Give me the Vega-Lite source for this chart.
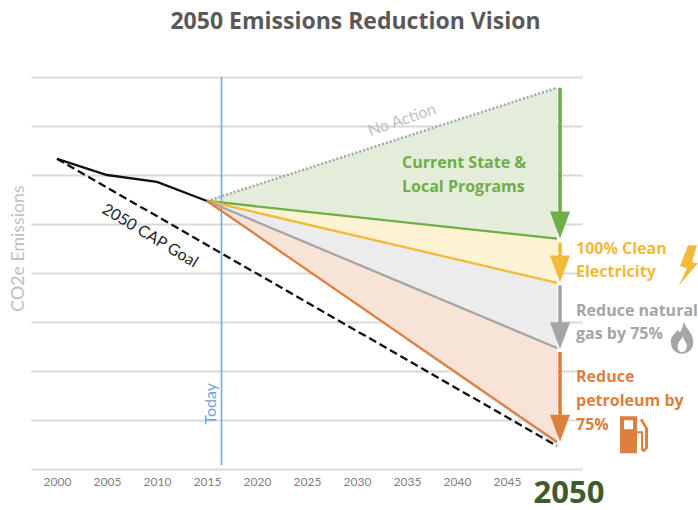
{
"$schema":"https://vega.github.io/schema/vega-lite/v6.json",
"width":551,"height":392,
"autosize":{"type":"none"},
"padding":{"left":31,"top":77,"right":116,"bottom":41},
"background":"white",
"title":{"text":"2050 Emissions Reduction Vision","anchor":"middle","frame":"group","dx":49,"offset":42,"fontSize":23,"font":"Open Sans","fontWeight":"bold","color":"#595959"},
"config":{"view":{"stroke":null},"text":{"font":"Open Sans"}},
"resolve":{"scale":{"color":"independent"}},
"datasets":{
"bands":[
{"band":"Current State & Local Programs","year":2015,"top":54.7,"bottom":54.7},
{"band":"Current State & Local Programs","year":2050,"top":77.8,"bottom":47},
{"band":"100% Clean Electricity","year":2015,"top":54.7,"bottom":54.7},
{"band":"100% Clean Electricity","year":2050,"top":47,"bottom":38},
{"band":"Reduce natural gas by 75%","year":2015,"top":54.7,"bottom":54.7},
{"band":"Reduce natural gas by 75%","year":2050,"top":38,"bottom":24.7},
{"band":"Reduce petroleum by 75%","year":2015,"top":54.7,"bottom":54.7},
{"band":"Reduce petroleum by 75%","year":2050,"top":24.7,"bottom":5.5},
{"band":"Remainder","year":2035,"top":26.6,"bottom":26.1},
{"band":"Remainder","year":2050,"top":5.5,"bottom":4.8}
],
"lines":[
{"series":"History","year":2000,"value":63.3},
{"series":"History","year":2005,"value":60},
{"series":"History","year":2010,"value":58.6},
{"series":"History","year":2015,"value":54.7},
{"series":"Goal","year":2000,"value":63.3},
{"series":"Goal","year":2050,"value":4.7},
{"series":"No Action","year":2015,"value":54.7},
{"series":"No Action","year":2050,"value":77.8},
{"series":"Current State & Local Programs","year":2015,"value":54.7},
{"series":"Current State & Local Programs","year":2050,"value":47},
{"series":"100% Clean Electricity","year":2015,"value":54.7},
{"series":"100% Clean Electricity","year":2050,"value":38},
{"series":"Reduce natural gas by 75%","year":2015,"value":54.7},
{"series":"Reduce natural gas by 75%","year":2050,"value":24.7},
{"series":"Reduce petroleum by 75%","year":2015,"value":54.7},
{"series":"Reduce petroleum by 75%","year":2050,"value":5.5}
],
"arrows":[
{"band":"Current State & Local Programs","year":2050.3,"start":77.8,"end":51,"head":49.8},
{"band":"100% Clean Electricity","year":2050.3,"start":46.2,"end":42,"head":40.8},
{"band":"Reduce natural gas by 75%","year":2050.3,"start":37.5,"end":28,"head":27.2},
{"band":"Reduce petroleum by 75%","year":2050.3,"start":23.9,"end":9.5,"head":8.3}
],
"labels":[
{"band":"Current State & Local Programs","text":"Current State &","year":2034.5,"value":62.4},
{"band":"Current State & Local Programs","text":"Local Programs","year":2034.5,"value":57.5},
{"band":"100% Clean Electricity","text":"100% Clean","year":2051.9,"value":44.9},
{"band":"100% Clean Electricity","text":"Electricity","year":2051.9,"value":40.2},
{"band":"Reduce natural gas by 75%","text":"Reduce natural","year":2051.9,"value":32.2},
{"band":"Reduce natural gas by 75%","text":"gas by 75%","year":2051.9,"value":27.6},
{"band":"Reduce petroleum by 75%","text":"Reduce","year":2051.9,"value":18.8},
{"band":"Reduce petroleum by 75%","text":"petroleum by","year":2051.9,"value":13.9},
{"band":"Reduce petroleum by 75%","text":"75%","year":2051.9,"value":9}
]
},
"encoding":{
"x":{"field":"year","type":"quantitative","scale":{"domain":[1997.4,2052.5],"nice":false,"zero":false},
"axis":{"title":null,"values":[2000,2005,2010,2015,2020,2025,2030,2035,2040,2045],"format":"d","grid":false,"domain":false,"ticks":false,"labelPadding":7,"labelFontSize":12,"labelFont":"Lato","labelColor":"#7f7f7f"}},
"y":{"field":"value","type":"quantitative","scale":{"domain":[0,80],"nice":false,"zero":false},
"axis":{"title":"CO2e Emissions","titleX":-4,"titleY":171,"titleAlign":"center","titleFontSize":17.8,"titleFontWeight":"normal","titleFont":"Lato","titleColor":"#bfbfbf","values":[0,10,20,30,40,50,60,70,80],"labels":false,"ticks":false,"domain":false,"grid":true,"gridColor":"#d9d9d9","gridWidth":2}}
},
"layer":[
{"data":{"name":"bands"},"mark":{"type":"area","opacity":1},
"encoding":{"y":{"field":"top","type":"quantitative"},"y2":{"field":"bottom"},
"color":{"field":"band","type":"nominal","legend":null,"scale":{"domain":["Current State & Local Programs","100% Clean Electricity","Reduce natural gas by 75%","Reduce petroleum by 75%","Remainder"],"range":["#e3edda","#fdf3d2","#ececec","#f8e4d6","#dcebf7"]}}}},
{"data":{"values":[{"year":2016.45,"start":80,"end":0.8}]},"mark":{"type":"rule","color":"#7ba7db","strokeWidth":1.6},
"encoding":{"y":{"field":"start","type":"quantitative"},"y2":{"field":"end"}}},
{"data":{"name":"lines"},"transform":[{"filter":"datum.series==='History'"}],"mark":{"type":"line","color":"#111111","strokeWidth":2.3}},
{"data":{"name":"lines"},"transform":[{"filter":"datum.series==='Goal'"}],"mark":{"type":"line","color":"#111111","strokeWidth":2.3,"strokeDash":[8,4]}},
{"data":{"name":"lines"},"transform":[{"filter":"datum.series==='No Action'"}],"mark":{"type":"line","color":"#a6a6a6","strokeWidth":2.5,"strokeDash":[2,2]}},
{"data":{"name":"lines"},"transform":[{"filter":"datum.series!=='History'&&datum.series!=='Goal'&&datum.series!=='No Action'"}],"mark":{"type":"line","strokeWidth":2.3},
"encoding":{"detail":{"field":"series"},"color":{"field":"series","type":"nominal","legend":null,"scale":{"domain":["Current State & Local Programs","100% Clean Electricity","Reduce natural gas by 75%","Reduce petroleum by 75%"],"range":["#70ad47","#f2b93b","#a5a5a5","#dd7f3e"]}}}},
{"data":{"name":"arrows"},"mark":{"type":"rule","strokeWidth":3.6},
"encoding":{"y":{"field":"start","type":"quantitative"},"y2":{"field":"end"},"color":{"field":"band","type":"nominal","legend":null,"scale":{"domain":["Current State & Local Programs","100% Clean Electricity","Reduce natural gas by 75%","Reduce petroleum by 75%"],"range":["#70ad47","#f2b93b","#a5a5a5","#dd7f3e"]}}}},
{"data":{"name":"arrows"},"mark":{"type":"point","filled":true,"opacity":1,"size":400,"shape":"M-1,-1.35L1,-1.35L0,1.35Z"},
"encoding":{"y":{"field":"head","type":"quantitative"},"color":{"field":"band","type":"nominal","legend":null,"scale":{"domain":["Current State & Local Programs","100% Clean Electricity","Reduce natural gas by 75%","Reduce petroleum by 75%"],"range":["#70ad47","#f2b93b","#a5a5a5","#dd7f3e"]}}}},
{"data":{"name":"labels"},"mark":{"type":"text","align":"left","baseline":"middle","fontWeight":"bold","fontSize":16,"font":"Open Sans"},
"encoding":{"text":{"field":"text"},"color":{"field":"band","type":"nominal","legend":null,"scale":{"domain":["Current State & Local Programs","100% Clean Electricity","Reduce natural gas by 75%","Reduce petroleum by 75%"],"range":["#70ad47","#f2b93b","#a5a5a5","#dd7f3e"]}}}},
{"data":{"values":[{"text":"No Action","year":2034.5,"value":71.2}]},"mark":{"type":"text","angle":-19,"fontSize":16,"font":"Lato","color":"#bfbfbf"},"encoding":{"text":{"field":"text"}}},
{"data":{"values":[{"text":"2050 CAP Goal","year":2009.3,"value":47.6}]},"mark":{"type":"text","angle":31,"fontSize":16,"font":"Lato","color":"#262626"},"encoding":{"text":{"field":"text"}}},
{"data":{"values":[{"text":"Today","year":2015.4,"value":13.3}]},"mark":{"type":"text","angle":270,"fontSize":16,"font":"Lato","color":"#6f9fd8"},"encoding":{"text":{"field":"text"}}},
{"data":{"values":[{"text":"2050","year":2051.2,"value":-5}]},"mark":{"type":"text","fontSize":31,"fontWeight":"bold","font":"Open Sans","color":"#3f5b2a"},"encoding":{"text":{"field":"text"}}},
{"data":{"values":[{"icon":"bolt","year":2063.15,"value":41.6}]},"mark":{"type":"point","filled":true,"opacity":1,"size":1600,"color":"#f2b93b","shape":"M-0.025,-1L0.425,-1L0.175,-0.15L0.475,-0.1L-0.475,1L-0.075,0.15L-0.425,0.05Z"}},
{"data":{"values":[{"icon":"flame","year":2062.5,"value":26.8}]},"mark":{"type":"point","filled":true,"opacity":1,"size":1024,"color":"#a5a5a5","shape":"M0.1,-1C0.3,-0.5 0.7,-0.3 0.7,0.3C0.7,0.75 0.35,1 0,1C-0.4,1 -0.7,0.7 -0.7,0.25C-0.7,-0.15 -0.35,-0.3 -0.25,-0.5C-0.15,-0.2 0,-0.4 0.1,-1ZM0,0.9C0.15,0.9 0.25,0.8 0.3,0.6C0.35,0.35 0.1,0.2 0.05,-0.1C0,0.1 -0.1,0.1 -0.2,0.3C-0.35,0.6 -0.25,0.9 0,0.9Z"}},
{"data":{"values":[{"icon":"pump","year":2057.7,"value":7}]},"mark":{"type":"point","filled":true,"opacity":1,"size":1369,"color":"#dd7f3e","shape":"M-0.757,-1L0.162,-1L0.162,1L-0.757,1ZM-0.54,-0.784L-0.54,-0.297L-0.054,-0.297L-0.054,-0.784ZM0.162,-0.189L0.486,-0.189L0.486,0.676L0.54,0.784L0.595,0.676L0.595,-0.351L0.324,-0.784L0.432,-0.892L0.757,-0.351L0.757,0.73L0.54,0.946L0.378,0.838L0.378,-0.081L0.162,-0.081Z"}}
]
}
